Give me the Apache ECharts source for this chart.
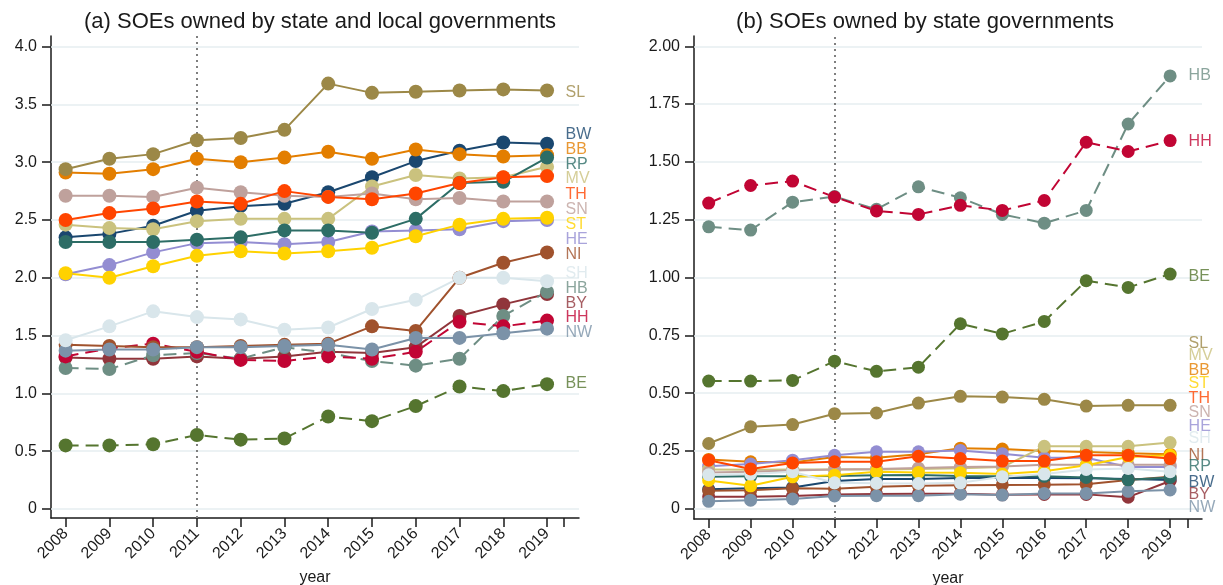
<!DOCTYPE html>
<html>
<head>
<meta charset="utf-8">
<script src="https://cdn.jsdelivr.net/npm/echarts@6/dist/echarts.min.js"></script>
<style>
  html, body { margin: 0; background: #fff; }
  #chart { width: 1223px; height: 585px; }
</style>
</head>
<body>
<div id="chart"></div>
<script>
// years on the x axis
const years = [2008, 2009, 2010, 2011, 2012, 2013, 2014, 2015, 2016, 2017, 2018, 2019];
// drawing order (later ones sit on top)
const states = ['BW', 'BY', 'BE', 'BB', 'HB', 'HH', 'HE', 'MV', 'NI', 'NW', 'RP', 'SL', 'SN', 'ST', 'SH', 'TH'];
const dashedStates = ['BE', 'HB', 'HH'];

// (a) state and local governments
const aBW = [2.35, 2.38, 2.45, 2.58, 2.62, 2.64, 2.74, 2.87, 3.01, 3.10, 3.17, 3.16];
const aBY = [1.31, 1.30, 1.30, 1.32, 1.30, 1.32, 1.36, 1.35, 1.40, 1.67, 1.77, 1.86];
const aBE = [0.55, 0.55, 0.56, 0.64, 0.60, 0.61, 0.80, 0.76, 0.89, 1.06, 1.02, 1.08];
const aBB = [2.91, 2.90, 2.94, 3.03, 3.00, 3.04, 3.09, 3.03, 3.11, 3.07, 3.05, 3.06];
const aHB = [1.22, 1.21, 1.33, 1.35, 1.30, 1.40, 1.35, 1.28, 1.24, 1.30, 1.67, 1.88];
const aHH = [1.32, 1.39, 1.43, 1.36, 1.29, 1.28, 1.32, 1.30, 1.36, 1.62, 1.58, 1.63];
const aHE = [2.03, 2.11, 2.22, 2.30, 2.31, 2.29, 2.31, 2.40, 2.41, 2.42, 2.49, 2.50];
const aMV = [2.46, 2.43, 2.42, 2.49, 2.51, 2.51, 2.51, 2.79, 2.89, 2.86, 2.87, 2.96];
const aNI = [1.42, 1.41, 1.40, 1.40, 1.41, 1.42, 1.43, 1.58, 1.54, 2.00, 2.13, 2.22];
const aNW = [1.37, 1.38, 1.38, 1.40, 1.40, 1.41, 1.42, 1.38, 1.48, 1.48, 1.52, 1.56];
const aRP = [2.31, 2.31, 2.31, 2.33, 2.35, 2.41, 2.41, 2.39, 2.51, 2.82, 2.83, 3.04];
const aSL = [2.94, 3.03, 3.07, 3.19, 3.21, 3.28, 3.68, 3.60, 3.61, 3.62, 3.63, 3.62];
const aSN = [2.71, 2.71, 2.70, 2.78, 2.74, 2.71, 2.70, 2.73, 2.68, 2.69, 2.66, 2.66];
const aST = [2.04, 2.00, 2.10, 2.19, 2.23, 2.21, 2.23, 2.26, 2.36, 2.46, 2.51, 2.52];
const aSH = [1.46, 1.58, 1.71, 1.66, 1.64, 1.55, 1.57, 1.73, 1.81, 2.00, 2.00, 1.97];
const aTH = [2.50, 2.56, 2.60, 2.66, 2.64, 2.75, 2.70, 2.68, 2.73, 2.82, 2.87, 2.88];

// (b) state governments only
const bBW = [0.084, 0.088, 0.092, 0.120, 0.128, 0.128, 0.133, 0.133, 0.133, 0.132, 0.128, 0.124];
const bBY = [0.052, 0.052, 0.055, 0.062, 0.064, 0.065, 0.065, 0.060, 0.062, 0.062, 0.050, 0.120];
const bBE = [0.552, 0.552, 0.555, 0.638, 0.594, 0.612, 0.800, 0.756, 0.810, 0.986, 0.957, 1.015];
const bBB = [0.213, 0.203, 0.200, 0.224, 0.220, 0.236, 0.262, 0.258, 0.250, 0.245, 0.240, 0.236];
const bHB = [1.219, 1.205, 1.326, 1.350, 1.295, 1.392, 1.345, 1.273, 1.235, 1.290, 1.664, 1.872];
const bHH = [1.322, 1.398, 1.417, 1.348, 1.288, 1.273, 1.312, 1.290, 1.333, 1.585, 1.545, 1.592];
const bHE = [0.184, 0.193, 0.210, 0.231, 0.246, 0.246, 0.252, 0.238, 0.220, 0.220, 0.180, 0.180];
const bMV = [0.170, 0.168, 0.170, 0.170, 0.170, 0.172, 0.175, 0.180, 0.270, 0.270, 0.270, 0.286];
const bNI = [0.078, 0.080, 0.088, 0.086, 0.095, 0.099, 0.102, 0.103, 0.104, 0.106, 0.124, 0.138];
const bNW = [0.032, 0.037, 0.042, 0.055, 0.056, 0.056, 0.063, 0.059, 0.066, 0.066, 0.075, 0.081];
const bRP = [0.138, 0.140, 0.140, 0.142, 0.145, 0.146, 0.142, 0.140, 0.140, 0.135, 0.125, 0.135];
const bSL = [0.282, 0.354, 0.364, 0.411, 0.414, 0.457, 0.486, 0.483, 0.473, 0.444, 0.447, 0.447];
const bSN = [0.157, 0.160, 0.165, 0.170, 0.172, 0.176, 0.180, 0.183, 0.190, 0.190, 0.190, 0.190];
const bST = [0.122, 0.099, 0.138, 0.145, 0.160, 0.157, 0.155, 0.150, 0.162, 0.188, 0.224, 0.231];
const bSH = [0.147, 0.150, 0.160, 0.112, 0.110, 0.109, 0.112, 0.138, 0.150, 0.170, 0.174, 0.160];
const bTH = [0.210, 0.172, 0.198, 0.203, 0.203, 0.227, 0.217, 0.206, 0.206, 0.231, 0.231, 0.217];

// tick labels
const ticksA = [0, 0.5, 1, 1.5, 2, 2.5, 3, 3.5, 4];
const ticksB = [0, 0.25, 0.5, 0.75, 1, 1.25, 1.5, 1.75, 2];

// where the name tags at the right end sit (y value, same order as states)
const tagAtA = [3.235, 1.778, 1.081, 3.105, 1.903, 1.652, 2.327, 2.855, 2.20, 1.522, 2.976, 3.60, 2.587, 2.457, 2.033, 2.716];
const tagAtB = [0.115, 0.063, 1.003, 0.598, 1.874, 1.589, 0.356, 0.663, 0.231, 0.003, 0.184, 0.714, 0.417, 0.542, 0.305, 0.477];

const valuesA = { BW: aBW, BY: aBY, BE: aBE, BB: aBB, HB: aHB, HH: aHH, HE: aHE, MV: aMV, NI: aNI, NW: aNW, RP: aRP, SL: aSL, SN: aSN, ST: aST, SH: aSH, TH: aTH };
const valuesB = { BW: bBW, BY: bBY, BE: bBE, BB: bBB, HB: bHB, HH: bHH, HE: bHE, MV: bMV, NI: bNI, NW: bNW, RP: bRP, SL: bSL, SN: bSN, ST: bST, SH: bSH, TH: bTH };

// stata s2color
const colors = {
  BW: '#1a476f', BY: '#90353b', BE: '#55752f', BB: '#e37e00', HB: '#6e8e84', HH: '#c10534',
  HE: '#938dd2', MV: '#cac27e', NI: '#a0522d', NW: '#7b92a8', RP: '#2d6d66', SL: '#9c8847',
  SN: '#bfa19c', ST: '#ffd200', SH: '#d9e6eb', TH: '#ff4500'
};

const FONT = "'Liberation Sans', Arial, sans-serif";
const INK = '#1a1a1a';
const GRIDLINE = '#e6eef1';

function buildSeries(idx, values, tagAt, ticks, markerSize) {
  const lines = states.map(s => ({
    name: s,
    type: 'line',
    xAxisIndex: idx,
    yAxisIndex: idx,
    data: years.map((y, j) => [y, values[s][j]]),
    symbol: 'circle',
    symbolSize: markerSize,
    showSymbol: true,
    z: 2,
    itemStyle: { color: colors[s] },
    lineStyle: {
      color: colors[s],
      width: 2,
      type: dashedStates.includes(s) ? [13, 7] : 'solid'
    },
    emphasis: { disabled: true },
    silent: true
  }));

  // name tags + gridlines + 2011 marker
  const tags = {
    type: 'scatter',
    xAxisIndex: idx,
    yAxisIndex: idx,
    symbolSize: 1,
    itemStyle: { color: 'rgba(0,0,0,0)' },
    z: 3,
    silent: true,
    data: states.map((s, i) => ({
      name: s,
      value: [years[years.length - 1], tagAt[i]],
      label: { color: colors[s] }
    })),
    label: {
      show: true,
      position: 'right',
      distance: 18,
      formatter: '{b}',
      fontSize: 16,
      fontFamily: FONT
    },
    markLine: {
      silent: true,
      z: 1,
      symbol: ['none', 'none'],
      label: { show: false },
      lineStyle: { color: GRIDLINE, width: 1.5, type: 'solid' },
      data: ticks.map(t => ({ yAxis: t })).concat([{
        xAxis: 2011,
        lineStyle: { color: '#7f7f7f', width: 2, type: [2, 4] }
      }])
    }
  };
  return lines.concat([tags]);
}

function xAxisFor(idx, min, max, extraTick) {
  return {
    type: 'value',
    gridIndex: idx,
    min: min,
    max: max,
    axisLine: { show: true, onZero: false, lineStyle: { color: INK, width: 1.5 } },
    axisTick: { show: true, length: 9, customValues: years.concat([extraTick]), lineStyle: { color: INK, width: 1.5 } },
    axisLabel: {
      customValues: years,
      rotate: 45,
      margin: 13,
      fontSize: 16,
      color: INK,
      fontFamily: FONT,
      formatter: v => String(v)
    },
    splitLine: { show: false },
    name: 'year',
    nameLocation: 'middle',
    nameGap: 52,
    nameTextStyle: { fontSize: 16, color: INK, fontFamily: FONT }
  };
}

function yAxisFor(idx, min, max, ticks, digits) {
  return {
    type: 'value',
    gridIndex: idx,
    min: min,
    max: max,
    axisLine: { show: true, onZero: false, lineStyle: { color: INK, width: 1.5 } },
    axisTick: { show: true, length: 9, customValues: ticks, lineStyle: { color: INK, width: 1.5 } },
    axisLabel: {
      customValues: ticks,
      margin: 14,
      fontSize: 16,
      color: INK,
      fontFamily: FONT,
      formatter: v => (v === 0 ? '0' : v.toFixed(digits))
    },
    splitLine: { show: false }
  };
}

const option = {
  animation: false,
  backgroundColor: '#fff',
  textStyle: { fontFamily: FONT },
  title: [
    {
      text: '(a) SOEs owned by state and local governments',
      left: 315, top: 6, textAlign: 'center',
      textStyle: { fontSize: 22, fontWeight: 'normal', color: INK, fontFamily: FONT }
    },
    {
      text: '(b) SOEs owned by state governments',
      left: 920, top: 6, textAlign: 'center',
      textStyle: { fontSize: 22, fontWeight: 'normal', color: INK, fontFamily: FONT }
    }
  ],
  grid: [
    { left: 51, top: 36, width: 528, height: 482, outerBoundsMode: 'none' },
    { left: 694, top: 36, width: 508, height: 483, outerBoundsMode: 'none' }
  ],
  xAxis: [
    xAxisFor(0, 2007.666, 2019.73, 2019.39),
    xAxisFor(1, 2007.65, 2019.76, 2019.41)
  ],
  yAxis: [
    yAxisFor(0, -0.078, 4.092, ticksA, 1),
    yAxisFor(1, -0.0445, 2.0445, ticksB, 2)
  ],
  series: buildSeries(0, valuesA, tagAtA, ticksA, 14)
    .concat(buildSeries(1, valuesB, tagAtB, ticksB, 13))
};

const chart = echarts.init(document.getElementById('chart'), null, { renderer: 'canvas' });
chart.setOption(option);
</script>
</body>
</html>
